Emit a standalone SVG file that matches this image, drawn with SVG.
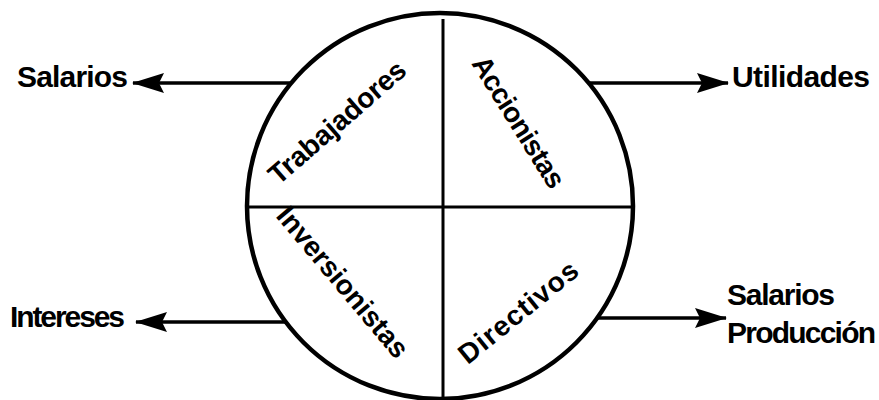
<svg xmlns="http://www.w3.org/2000/svg" width="879" height="400" viewBox="0 0 879 400">
  <style>
    .lbl { font-family: "Liberation Sans", Arial, sans-serif; font-weight: bold; font-size: 30px; fill: #000; }
    .in { font-family: "Liberation Sans", Arial, sans-serif; font-weight: bold; font-size: 28px; fill: #000; text-anchor: middle; }
    .ln { stroke: #000; stroke-width: 3; fill: none; }
    .conn { stroke: #000; stroke-width: 3.5; fill: none; marker-end: url(#ah); }
  </style>
  <defs>
    <marker id="ah" viewBox="0 0 32 22" refX="31" refY="11" markerWidth="32" markerHeight="22" markerUnits="userSpaceOnUse" orient="auto">
      <path d="M0,1 L32,11 L0,21 L5,11 z" fill="#000"/>
    </marker>
  </defs>
  <rect width="879" height="400" fill="#fff"/>
  <g id="circle">
    <circle cx="440" cy="206" r="193" fill="none" stroke="#000" stroke-width="4.5"/>
    <line class="ln" x1="443" y1="19" x2="443" y2="398"/>
    <line class="ln" x1="247" y1="207" x2="633" y2="207"/>
  </g>
  <g id="trabajadores">
    <text class="in" x="337" y="122" dy="0.35em" textLength="172" transform="rotate(-41 337 122)">Trabajadores</text>
  </g>
  <g id="accionistas">
    <text class="in" x="519" y="122" dy="0.35em" textLength="150" transform="rotate(58 519 122)">Accionistas</text>
  </g>
  <g id="inversionistas">
    <text class="in" x="343" y="282" dy="0.35em" textLength="188" transform="rotate(50 343 282)">Inversionistas</text>
  </g>
  <g id="directivos">
    <text class="in" x="518" y="312" dy="0.35em" textLength="145" transform="rotate(-39 518 312)">Directivos</text>
  </g>
  <g id="connectors">
    <line class="conn" x1="291" y1="83" x2="133" y2="83"/>
    <line class="conn" x1="589" y1="83" x2="728" y2="83"/>
    <line class="conn" x1="286" y1="322" x2="136" y2="322"/>
    <line class="conn" x1="597" y1="318" x2="726" y2="318"/>
  </g>
  <g id="salarios-left">
    <text class="lbl" x="17" y="87" textLength="111">Salarios</text>
  </g>
  <g id="utilidades">
    <text class="lbl" x="732" y="87" textLength="138">Utilidades</text>
  </g>
  <g id="intereses">
    <text class="lbl" x="10" y="327" textLength="115">Intereses</text>
  </g>
  <g id="salarios-produccion">
    <text class="lbl" x="727" y="305" textLength="108">Salarios</text>
    <text class="lbl" x="727" y="343" textLength="149">Producción</text>
  </g>
</svg>
